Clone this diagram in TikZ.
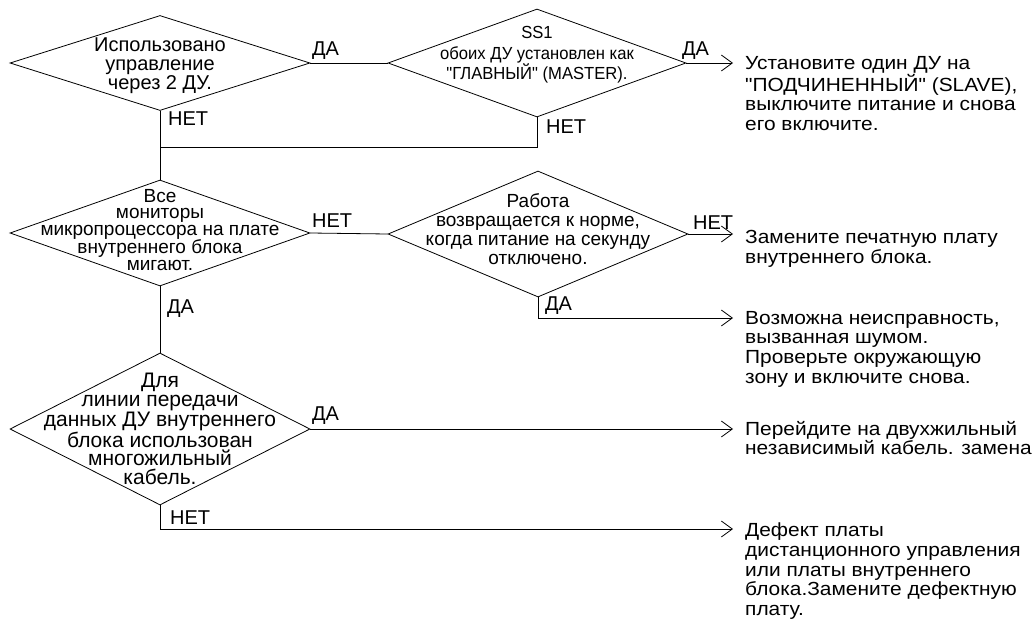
\documentclass[tikz,border=0pt]{standalone}
\usepackage{fontspec}
\setmainfont{Liberation Sans}
\newfontfamily\condf[FakeStretch=0.95]{Liberation Sans}
\newfontfamily\widef[FakeStretch=1.1]{Liberation Sans}
\usetikzlibrary{shapes.geometric,arrows.meta}
\begin{document}
\begin{tikzpicture}[x=1pt,y=-1pt,
  dia/.style={draw, shape=diamond, inner sep=0pt, line width=0.8pt},
  dtxt/.style={align=center, inner sep=0pt},
  rtxt/.style={align=left, inner sep=0pt, anchor=north west, font=\widef\fontsize{19}{19.6}\selectfont},
  lbl/.style={inner sep=0pt, anchor=west, font=\fontsize{20}{20}\selectfont},
  ln/.style={line width=0.8pt},
  arr/.style={line width=0.8pt, -{Straight Barb[length=11pt,width=16pt,line width=0.8pt]}}]
\useasboundingbox (0,0) rectangle (1036,624);
% diamonds
\node[dia, minimum width=300, minimum height=95] (d1) at (160,63) {};
\node[dia, minimum width=298, minimum height=108] (d2) at (537,63) {};
\node[dia, minimum width=300, minimum height=106] (d3) at (160,233) {};
\node[dia, minimum width=300, minimum height=126] (d4) at (538,234) {};
\node[dia, minimum width=300, minimum height=152] (d5) at (160,429) {};
% diamond texts
\node[dtxt, font=\fontsize{20}{19}\selectfont] (x1) at (160,66) {Использовано\\управление\\через 2 ДУ.};
\node[dtxt, font=\condf\fontsize{17.5}{20.5}\selectfont] (x2) at (537,55) {SS1\\обоих ДУ установлен как\\"ГЛАВНЫЙ" (MASTER).};
\node[dtxt, font=\fontsize{19}{16.2}\selectfont] (x3) at (160,230) {Все\\мониторы\\микропроцессора на плате\\внутреннего блока\\мигают.};
\node[dtxt, font=\fontsize{19}{19}\selectfont] (x4) at (538,229) {Работа\\возвращается к норме,\\когда питание на секунду\\отключено.};
\node[dtxt, font=\fontsize{21}{18.6}\selectfont] (x5) at (160,429) {Для\\линии передачи\\данных ДУ внутреннего\\блока использован\\многожильный\\кабель.};
% end points
\coordinate (e1) at (733,63);
\coordinate (e2) at (733,234);
\coordinate (e3) at (733,318);
\coordinate (e4) at (733,429);
\coordinate (e5) at (733,529);
\coordinate (j1) at (160,147);
% connectors
\draw[ln] (d1.east) -- (d2.west);
\draw[arr] (d2.east) -- (e1);
\draw[ln] (d2.south) |- (j1);
\draw[ln] (d1.south) -- (d3.north);
\draw[ln] (d3.east) -- (d4.west);
\draw[arr] (d4.east) -- (e2);
\draw[arr] (d4.south) |- (e3);
\draw[ln] (d3.south) -- (d5.north);
\draw[arr] (d5.east) -- (e4);
\draw[arr] (d5.south) |- (e5);
% labels
\node[lbl] (l1) at (312,51) {ДА};
\node[lbl] (l2) at (682,51) {ДА};
\node[lbl] (l3) at (168,119) {НЕТ};
\node[lbl] (l4) at (546,127) {НЕТ};
\node[lbl] (l5) at (312,221) {НЕТ};
\node[lbl] (l6) at (167,309) {ДА};
\node[lbl] (l7) at (693,223) {НЕТ};
\node[lbl] (l8) at (545,306) {ДА};
\node[lbl] (l9) at (312,416) {ДА};
\node[lbl] (l10) at (170,518) {НЕТ};
% result texts
\node[rtxt] (t1) at (745,56) {Установите один ДУ на\\"ПОДЧИНЕННЫЙ" (SLAVE),\\выключите питание и снова\\его включите.};
\node[rtxt] (t2) at (745,230) {Замените печатную плату\\внутреннего блока.};
\node[rtxt] (t3) at (745,311) {Возможна неисправность,\\вызванная шумом.\\Проверьте окружающую\\зону и включите снова.};
\node[rtxt] (t4) at (745,421) {Перейдите на двухжильный\\независимый кабель. замена};
\node[rtxt] (t5) at (745,523) {Дефект платы\\дистанционного управления\\или платы внутреннего\\блока.Замените дефектную\\плату.};
\end{tikzpicture}
\end{document}
